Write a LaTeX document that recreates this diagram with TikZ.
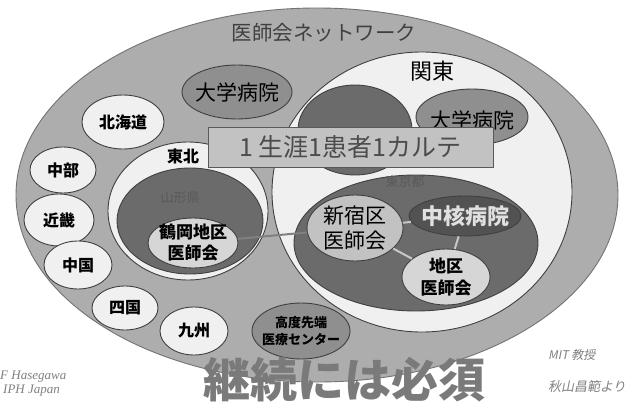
\documentclass[tikz,border=0pt]{standalone}
\usepackage{fontspec}
\setmainfont{Noto Sans CJK JP}
\newfontfamily\jpslant[FakeSlant=0.2]{Noto Sans CJK JP}
\newfontfamily\latit{Liberation Serif}
\usetikzlibrary{shapes.geometric}
\definecolor{band}{gray}{0.68}
\definecolor{paleg}{gray}{0.94}
\definecolor{darkg}{gray}{0.42}
\definecolor{midg}{gray}{0.56}
\definecolor{lightg}{gray}{0.76}
\definecolor{lighterg}{gray}{0.84}
\definecolor{coreg}{gray}{0.32}
\definecolor{lineg}{gray}{0.25}
\tikzset{
  el/.style={ellipse, draw=lineg, line width=0.9pt, inner sep=0pt},
  whiteel/.style={el, fill=paleg},
  darkel/.style={el, fill=darkg},
  midel/.style={el, fill=midg},
  lbl/.style={inner sep=0pt, align=center, text=black},
  boldlbl/.style={lbl, font=\bfseries\fontsize{16}{18}\selectfont},
  faint/.style={inner sep=0pt, text=black!65, font=\fontsize{13}{14}\selectfont},
  connA/.style={draw=black!50, line width=2pt},
  connB/.style={draw=black!22, line width=2pt},
}
\begin{document}
\begin{tikzpicture}[x=1pt,y=-1pt]
\useasboundingbox (0,0) rectangle (629,404);
\fill[white] (0,0) rectangle (629,404);
% outer network
\node[el, fill=band, draw=black!55, minimum width=602pt, minimum height=374pt] (net) at (317,195) {};
\node[lbl, text=black!75, font=\fontsize{20.5}{22}\selectfont] (nettitle) at (324,33) {医師会ネットワーク};
% Kanto
\node[whiteel, minimum width=300pt, minimum height=280pt] (kanto) at (422,192) {};
\node[lbl, font=\fontsize{22}{24}\selectfont] (kantolbl) at (432,71) {関東};
% university hospital (left)
\node[midel, minimum width=110pt, minimum height=54pt] (univ1) at (237,92) {};
\node[lbl, font=\fontsize{21}{23}\selectfont] (univ1lbl) at (univ1) {大学病院};
% regions
\node[whiteel, minimum width=82pt, minimum height=54pt] (hokkaido) at (123,122) {};
\node[boldlbl] (hokkaidolbl) at (hokkaido) {北海道};
\node[whiteel, minimum width=66pt, minimum height=46pt] (chubu) at (63,170) {};
\node[boldlbl] (chubulbl) at (chubu) {中部};
\node[whiteel, minimum width=70pt, minimum height=52pt] (kinki) at (59,220) {};
\node[boldlbl] (kinkilbl) at (kinki) {近畿};
\node[whiteel, minimum width=68pt, minimum height=48pt] (chugoku) at (78,265) {};
\node[boldlbl] (chugokulbl) at (chugoku) {中国};
\node[whiteel, minimum width=66pt, minimum height=44pt] (shikoku) at (125,308) {};
\node[boldlbl] (shikokulbl) at (shikoku) {四国};
\node[whiteel, minimum width=68pt, minimum height=48pt] (kyushu) at (194,331) {};
\node[boldlbl] (kyushulbl) at (kyushu) {九州};
\node[midel, minimum width=98pt, minimum height=56pt] (kodo) at (301,331) {};
\node[lbl, font=\bfseries\fontsize{13}{17}\selectfont] (kodolbl) at (kodo) {高度先端\\医療センター};
% Tohoku
\node[whiteel, minimum width=160pt, minimum height=138pt] (tohoku) at (188,211) {};
\node[boldlbl] (tohokulbl) at (183,156) {東北};
\node[darkel, minimum width=146pt, minimum height=106pt] (yamagata) at (190,221) {};
\node[faint] (yamagatalbl) at (180,198) {山形県};
\node[el, fill=lighterg, minimum width=90pt, minimum height=50pt] (tsuruoka) at (193,243) {};
\node[lbl, font=\bfseries\fontsize{17}{21}\selectfont] (tsuruokalbl) at (tsuruoka) {鶴岡地区\\医師会};
% Kanto contents
\node[darkel, minimum width=114pt, minimum height=90pt] (kantodark) at (355,130) {};
\node[midel, minimum width=112pt, minimum height=56pt] (univ2) at (472,117) {};
\node[lbl, font=\fontsize{21}{23}\selectfont] (univ2lbl) at (472,120) {大学病院};
\node[darkel, minimum width=244pt, minimum height=136pt] (tokyo) at (416,243) {};
\node[faint] (tokyolbl) at (405,182) {東京都};
\node[el, fill=lightg, minimum width=96pt, minimum height=66pt] (shinjuku) at (355,228) {};
\node[lbl, font=\fontsize{21}{25}\selectfont] (shinjukulbl) at (shinjuku) {新宿区\\医師会};
\node[el, fill=coreg, minimum width=112pt, minimum height=40pt] (chukaku) at (465,216) {};
\node[lbl, text=black!12, font=\bfseries\fontsize{22}{24}\selectfont] (chukakulbl) at (chukaku) {中核病院};
\node[el, fill=lighterg, minimum width=88pt, minimum height=56pt] (chiku) at (446,277) {};
\node[lbl, font=\bfseries\fontsize{17}{22}\selectfont] (chikulbl) at (chiku) {地区\\医師会};
% connectors
\draw[connA] (tsuruoka) -- (shinjuku);
\draw[connB] (shinjuku) -- (chukaku);
\draw[connB] (shinjuku) -- (chiku);
\draw[connB] (chukaku) -- (chiku);
% banner
\node[draw=black!65, line width=1pt, fill=lightg, minimum width=285pt, minimum height=40pt, inner sep=0pt,
      text=black!70, font=\fontsize{25}{27}\selectfont] (banner) at (350.5,147) {1 生涯1患者1カルテ};
% bottom text and credits
\node[lbl, text=black!52, font=\bfseries\fontsize{47}{49}\selectfont] (keizoku) at (344,380) {継続には必須};
\node[lbl, anchor=west, text=black!50, font=\latit\itshape\fontsize{13}{14}\selectfont] (credA) at (0,377) {F Hasegawa};
\node[lbl, anchor=west, text=black!50, font=\latit\itshape\fontsize{13}{14}\selectfont] (credB) at (3,391) {IPH Japan};
\node[lbl, anchor=west, text=black!50, font=\jpslant\fontsize{12}{13}\selectfont] (credC) at (548,355) {MIT 教授};
\node[lbl, anchor=west, text=black!50, font=\jpslant\fontsize{13}{14}\selectfont] (credD) at (548,387) {秋山昌範より};
\end{tikzpicture}
\end{document}
